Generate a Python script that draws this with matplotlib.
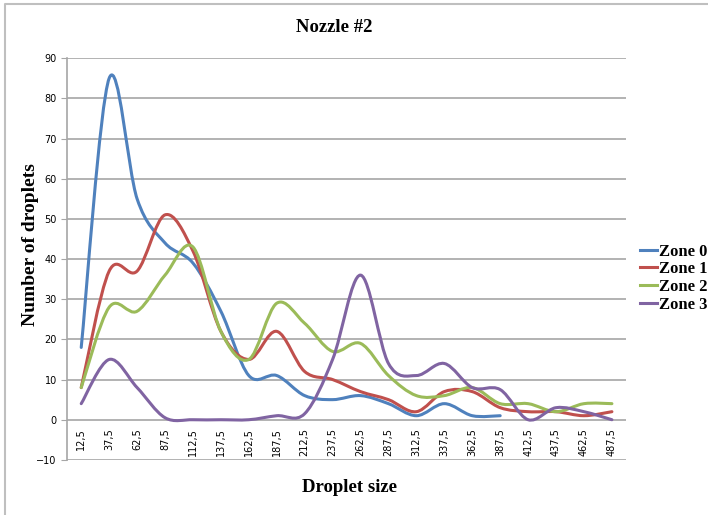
import matplotlib
matplotlib.use("Agg")
import matplotlib.pyplot as plt
from matplotlib.path import Path
from matplotlib.patches import PathPatch
from matplotlib.lines import Line2D

sizes = ['12,5', '37,5', '62,5', '87,5', '112,5', '137,5', '162,5', '187,5', '212,5', '237,5',
         '262,5', '287,5', '312,5', '337,5', '362,5', '387,5', '412,5', '437,5', '462,5', '487,5']
zone0 = [18, 85, 55, 44, 39, 27, 11, 11, 6, 5, 6, 4, 1, 4, 1, 1]
zone1 = [8, 37, 37, 51, 42, 22, 15, 22, 12, 10, 7, 5, 2, 7, 7, 3, 2, 2, 1, 2]
zone2 = [8, 28, 27, 36, 43, 22, 15, 29, 24, 17, 19, 11, 6, 6, 8, 4, 4, 2, 4, 4]
zone3 = [4, 15, 8, 0.5, 0, 0, 0, 1, 1.5, 15, 36, 14, 11, 14, 8, 7.5, 0, 3, 2, 0]
names = ['Zone 0', 'Zone 1', 'Zone 2', 'Zone 3']
colors = ['#4F81BD', '#C0504D', '#9BBB59', '#8064A2']


def smooth_path(ys):
    # bezier segments through the points, like excel's smoothed line
    pts = [(i, y) for i, y in enumerate(ys)]
    verts = [pts[0]]
    codes = [Path.MOVETO]
    n = len(pts)
    for i in range(n - 1):
        p0 = pts[i - 1] if i > 0 else pts[i]
        p1 = pts[i]
        p2 = pts[i + 1]
        p3 = pts[i + 2] if i + 2 < n else pts[i + 1]
        c1 = (p1[0] + (p2[0] - p0[0]) / 6, p1[1] + (p2[1] - p0[1]) / 6)
        c2 = (p2[0] - (p3[0] - p1[0]) / 6, p2[1] - (p3[1] - p1[1]) / 6)
        verts += [c1, c2, p2]
        codes += [Path.CURVE4] * 3
    return Path(verts, codes)


fig = plt.figure(figsize=(7.08, 5.15), dpi=100)
# chart border: only top and left edges are in the picture
fig.add_artist(Line2D([0.007, 0.007, 1.0], [0.0, 0.992, 0.992], transform=fig.transFigure,
                      color='#BFBFBF', lw=1.5))
ax = fig.add_axes([0.095, 0.107, 0.789, 0.78])

for ys, c in zip([zone0, zone1, zone2, zone3], colors):
    ax.add_patch(PathPatch(smooth_path(ys), fill=False, edgecolor=c, lw=2.2,
                           capstyle='round', joinstyle='round', zorder=3))

# spine position first, it resets the ticks
ax.spines['bottom'].set_position(('data', 0))
ax.spines['bottom'].set_visible(False)
ax.spines['top'].set_visible(False)
ax.spines['right'].set_visible(False)
ax.spines['left'].set_color('#A6A6A6')
ax.spines['left'].set_linewidth(1.2)

ax.set_xlim(-0.5, len(sizes) - 0.5)
ax.set_ylim(-10, 90)
ax.set_yticks(range(-10, 91, 10))
ax.yaxis.grid(True, color='#A6A6A6', lw=1.2)
ax.set_axisbelow(True)

ax.set_xticks(range(len(sizes)))
ax.set_xticklabels(sizes, rotation=90, fontsize=7, family='DejaVu Sans')
ax.tick_params(axis='x', length=0, pad=6)
ax.tick_params(axis='y', length=4, color='#A6A6A6', labelsize=7)

serif = {'family': 'Liberation Serif', 'fontweight': 'bold'}
fig.text(0.472, 0.947, 'Nozzle #2', fontsize=13.5, ha='center', va='center', **serif)
fig.text(0.043, 0.525, 'Number of droplets', fontsize=14, rotation=90,
         ha='center', va='center', **serif)
fig.text(0.494, 0.054, 'Droplet size', fontsize=13.5, ha='center', va='center', **serif)

handles = [Line2D([], [], color=c, lw=2.2) for c in colors]
fig.legend(handles, names, loc='center left', bbox_to_anchor=(0.902, 0.46),
           frameon=False, handlelength=1.0, handletextpad=0.1, labelspacing=0.1,
           borderpad=0.1, borderaxespad=0,
           prop={'family': 'Liberation Serif', 'weight': 'bold', 'size': 12})

fig.savefig('out.png', dpi=100)
